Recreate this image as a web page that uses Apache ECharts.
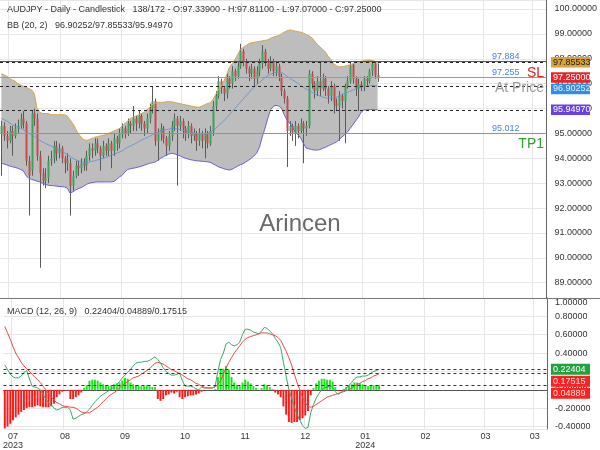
<!DOCTYPE html>
<html><head><meta charset="utf-8">
<script src="https://cdn.jsdelivr.net/npm/echarts@6/dist/echarts.min.js"></script>
<style>html,body{margin:0;padding:0;background:#fff}#c{width:600px;height:450px}</style>
</head><body><div id="c"></div>
<script>
// ---------- DATA ----------
const slotCount = 199;
const tickIndex = [3,22,44,66,88,110,132,154,176,194];
const tickLabels = ['07\n2023','08','09','10','11','12','01\n2024','02','03','03'];

const opens = [
95.0,95.3,94.9,94.7,95.1,94.9,95.2,95.3,95.6,95.4,
93.9,93.5,95.8,95.6,94.1,93.4,93.1,93.2,93.9,94.0,
94.5,94.2,94.4,94.0,93.8,93.8,92.9,93.3,93.7,93.6,
93.8,93.7,94.1,94.4,94.3,94.6,94.4,94.1,94.5,94.3,
94.6,94.3,94.8,94.6,95.0,95.2,95.0,95.4,95.3,95.6,
95.4,95.7,95.4,95.2,95.6,96.0,96.3,94.7,95.0,95.2,
94.8,94.5,94.9,95.3,95.6,95.3,95.5,95.2,95.0,95.3,
94.9,95.0,94.7,95.0,94.7,95.0,94.6,95.1,96.1,96.5,
97.1,96.8,96.6,97.2,97.0,97.5,97.3,97.7,98.3,97.9,
97.6,97.4,97.6,97.2,97.5,97.8,98.3,97.9,97.6,97.9,
97.5,97.7,97.3,96.7,96.4,95.1,95.3,95.0,95.3,95.1,
95.4,95.2,95.3,97.4,97.0,96.7,97.1,96.8,97.2,96.8,
96.5,96.9,96.2,96.1,96.5,96.3,96.9,97.1,97.75,97.2,
96.8,97.0,96.9,97.2,97.1,97.5,97.8,97.339];
const closes = [
95.3,94.9,94.7,95.1,94.9,95.2,95.3,95.6,95.4,93.9,
93.3,95.8,95.6,94.1,93.4,93.1,93.2,93.9,94.0,94.5,
94.2,94.4,94.0,93.8,93.9,92.9,93.3,93.7,93.6,93.8,
93.7,94.1,94.4,94.3,94.6,94.4,94.1,94.5,94.3,94.6,
94.3,94.8,94.6,95.0,95.2,95.0,95.4,95.3,95.6,95.4,
95.7,95.4,95.2,95.6,96.0,96.3,94.7,95.0,95.2,94.8,
94.5,94.9,95.3,95.6,95.3,95.5,95.2,95.0,95.3,94.9,
95.0,94.7,95.0,94.7,95.0,94.6,95.1,96.1,96.5,97.1,
96.8,96.6,97.2,97.0,97.5,97.3,97.7,98.3,97.9,97.6,
97.4,97.6,97.2,97.5,97.8,98.3,97.9,97.6,97.9,97.5,
97.7,97.3,96.7,96.4,95.1,95.3,95.0,95.3,95.1,95.4,
95.2,95.3,97.4,97.0,96.7,97.1,96.8,97.2,96.8,96.5,
96.9,96.2,96.1,96.5,96.3,96.9,97.1,97.7,97.2,96.8,
97.0,96.9,97.2,97.1,97.5,97.8,97.339,97.25];
const highs = [
95.5,95.45,95.1,95.3,95.3,95.4,95.55,95.8,95.9,95.5,
94.1,95.9,96.0,95.8,94.3,93.6,93.6,94.1,94.3,94.7,
94.7,94.6,94.5,94.1,94.2,94.0,93.5,93.9,93.9,94.0,
94.0,94.3,94.6,94.6,94.8,94.8,94.5,94.7,94.6,94.8,
94.7,95.0,94.9,95.2,95.4,95.3,95.6,95.5,96.1,95.7,
95.9,95.8,95.5,95.8,96.2,96.9,96.4,95.2,95.4,95.3,
94.9,95.1,95.5,95.8,95.7,95.7,95.6,95.3,95.5,95.4,
95.2,95.1,95.2,95.1,95.2,95.1,95.3,96.3,96.7,97.3,
97.2,96.9,97.4,97.3,97.7,97.6,97.9,98.6,98.4,98.0,
97.7,97.8,97.7,97.7,98.0,98.55,98.4,98.0,98.1,98.0,
97.9,97.8,97.4,96.8,96.5,95.5,95.4,95.5,95.4,95.6,
95.5,95.5,97.55,97.5,97.1,97.3,97.9,97.4,97.3,96.9,
97.1,97.0,96.4,96.7,96.6,97.0,97.3,97.85,97.8,97.3,
97.2,97.1,97.3,97.3,97.6,97.9,97.9,97.811];
const lows = [
93.3,94.7,94.4,94.6,94.1,94.8,95.0,95.2,95.2,93.7,
91.7,93.3,95.3,93.9,89.6,92.9,92.8,93.0,93.7,93.8,
93.9,94.0,93.8,93.4,93.5,91.7,92.7,93.2,93.3,93.4,
93.5,93.5,93.9,94.0,94.1,94.2,93.5,94.0,94.1,94.1,
93.6,94.1,94.3,94.4,94.8,94.8,94.9,95.0,95.1,95.1,
95.2,95.1,94.9,95.0,95.4,95.8,94.5,93.9,94.7,94.6,
94.1,94.3,94.7,95.1,92.9,95.1,94.8,94.7,94.8,94.6,
94.7,94.3,94.5,94.4,94.0,94.4,94.5,94.9,95.9,96.4,
96.6,96.3,96.4,96.8,96.8,97.1,97.2,97.6,97.7,97.4,
97.1,97.2,96.9,97.0,97.3,97.6,97.7,97.4,97.5,97.3,
97.3,97.1,96.5,96.2,93.65,94.9,94.7,94.5,94.8,95.0,
93.8,94.9,95.2,96.8,96.4,96.5,96.5,96.7,96.5,96.2,
96.3,95.8,95.9,94.7,96.0,94.6,96.8,97.0,97.0,96.5,
95.9,96.7,96.7,96.9,97.0,97.3,97.2,97.07];

const bbUpper = [
97.4,97.35,97.3,97.2,97.15,97.1,97.0,96.95,96.9,96.85,
96.8,96.75,96.6,96.0,95.85,95.8,95.8,95.8,95.75,95.75,
95.75,95.75,95.75,95.75,95.7,95.55,95.4,95.2,95.0,94.85,
94.75,94.72,94.75,94.8,94.85,94.87,94.9,94.92,94.95,95.0,
95.05,95.1,95.15,95.2,95.3,95.4,95.5,95.6,95.65,95.7,
95.75,95.8,95.85,95.95,96.05,96.15,96.2,96.25,96.25,96.25,
96.27,96.27,96.27,96.25,96.22,96.2,96.17,96.15,96.13,96.1,
96.08,96.06,96.05,96.1,96.15,96.2,96.22,96.35,96.55,96.75,
96.9,97.1,97.35,97.65,97.8,97.95,98.15,98.37,98.45,98.53,
98.6,98.64,98.66,98.68,98.7,98.72,98.74,98.76,98.82,98.87,
98.9,98.94,99.0,99.07,99.12,99.16,99.14,99.11,99.09,99.07,
99.03,98.98,98.93,98.85,98.72,98.58,98.48,98.38,98.27,98.1,
97.97,97.8,97.72,97.67,97.68,97.7,97.73,97.76,97.8,97.84,
97.87,97.9,97.92,97.94,97.95,97.93,97.9,97.855];
const bbMid = [
95.6,95.55,95.5,95.42,95.35,95.3,95.25,95.2,95.15,95.08,
95.0,94.95,94.88,94.8,94.72,94.65,94.6,94.55,94.5,94.45,
94.4,94.35,94.3,94.22,94.15,94.08,94.0,93.95,93.9,93.85,
93.83,93.82,93.85,93.88,93.9,93.93,93.96,94.0,94.03,94.07,
94.12,94.17,94.2,94.25,94.3,94.38,94.45,94.5,94.55,94.6,
94.67,94.73,94.78,94.83,94.88,94.95,95.0,95.05,95.1,95.12,
95.15,95.17,95.2,95.2,95.18,95.16,95.13,95.1,95.08,95.05,
95.02,95.0,94.98,94.97,94.97,95.0,95.05,95.12,95.2,95.3,
95.4,95.5,95.62,95.75,95.88,96.0,96.12,96.25,96.38,96.5,
96.62,96.75,96.85,96.95,97.05,97.15,97.25,97.32,97.38,97.42,
97.45,97.47,97.45,97.38,97.3,97.22,97.15,97.08,97.0,96.92,
96.85,96.78,96.72,96.66,96.6,96.55,96.5,96.46,96.43,96.42,
96.42,96.42,96.45,96.5,96.55,96.6,96.65,96.7,96.74,96.78,
96.82,96.85,96.88,96.9,96.92,96.93,96.92,96.90252];
const bbLower = [
93.8,93.77,93.73,93.69,93.66,93.63,93.6,93.55,93.5,93.3,
93.2,93.15,93.12,93.08,93.05,93.0,92.95,92.92,92.9,92.9,
92.88,92.87,92.86,92.85,92.8,92.6,92.65,92.72,92.78,92.82,
92.88,92.95,93.0,93.02,93.04,93.05,93.05,93.05,93.05,93.05,
93.05,93.07,93.15,93.25,93.32,93.45,93.55,93.58,93.6,93.62,
93.65,93.68,93.72,93.76,93.8,93.82,93.85,93.92,94.0,94.06,
94.12,94.17,94.2,94.18,94.14,94.1,94.05,94.0,93.97,93.94,
93.92,93.9,93.89,93.88,93.87,93.86,93.84,93.78,93.72,93.66,
93.62,93.58,93.55,93.53,93.56,93.62,93.68,93.74,93.78,93.85,
93.92,94.0,94.1,94.21,94.45,94.86,95.2,95.6,95.95,96.08,
96.13,96.1,96.02,95.75,95.54,95.4,95.26,95.05,94.95,94.82,
94.6,94.41,94.38,94.35,94.33,94.33,94.35,94.4,94.44,94.5,
94.55,94.6,94.65,94.75,94.85,94.95,95.05,95.2,95.35,95.5,
95.65,95.85,95.94,95.95,95.96,95.96,95.95,95.9497];

const macdLine = [
0.27,0.22,0.17,0.14,0.13,0.13,0.15,0.19,0.21,0.12,
0.04,0.03,0.02,0.0,-0.05,-0.10,-0.14,-0.17,-0.20,-0.22,
-0.21,-0.19,-0.19,-0.19,-0.22,-0.32,-0.31,-0.29,-0.27,-0.26,
-0.24,-0.21,-0.17,-0.13,-0.10,-0.07,-0.05,-0.03,-0.01,0.01,
0.03,0.06,0.09,0.13,0.16,0.19,0.22,0.26,0.29,0.30,
0.30,0.31,0.31,0.32,0.34,0.36,0.33,0.29,0.24,0.20,
0.18,0.16,0.16,0.17,0.18,0.10,0.04,0.04,0.04,0.03,
0.01,0.0,0.03,0.02,0.02,0.02,0.02,0.04,0.20,0.33,
0.40,0.50,0.52,0.49,0.48,0.49,0.52,0.60,0.66,0.66,
0.65,0.63,0.62,0.61,0.64,0.68,0.67,0.64,0.61,0.56,
0.52,0.46,0.30,0.15,0.0,-0.09,-0.18,-0.27,-0.33,-0.39,
-0.42,-0.41,-0.25,-0.16,-0.09,-0.04,0.0,0.02,0.03,0.04,
0.03,-0.02,-0.05,-0.03,-0.01,0.02,0.05,0.08,0.12,0.14,
0.14,0.15,0.15,0.16,0.18,0.20,0.21,0.22404];
const signalLine = [
0.69,0.62,0.55,0.47,0.40,0.35,0.30,0.26,0.23,0.20,
0.17,0.14,0.11,0.08,0.04,0.0,-0.04,-0.08,-0.11,-0.14,
-0.15,-0.17,-0.18,-0.18,-0.19,-0.19,-0.20,-0.22,-0.24,-0.25,
-0.25,-0.25,-0.23,-0.21,-0.19,-0.16,-0.13,-0.10,-0.07,-0.05,
-0.03,-0.01,0.02,0.05,0.07,0.09,0.11,0.13,0.14,0.15,
0.17,0.19,0.21,0.23,0.26,0.29,0.30,0.29,0.28,0.26,
0.24,0.22,0.21,0.19,0.18,0.16,0.14,0.12,0.11,0.09,
0.07,0.06,0.04,0.03,0.02,0.02,0.02,0.03,0.06,0.10,
0.17,0.24,0.30,0.35,0.40,0.44,0.48,0.52,0.55,0.57,
0.58,0.59,0.60,0.61,0.62,0.62,0.62,0.61,0.60,0.59,
0.57,0.54,0.48,0.42,0.35,0.27,0.17,0.08,0.0,-0.08,
-0.14,-0.18,-0.19,-0.18,-0.16,-0.14,-0.12,-0.10,-0.08,-0.07,
-0.06,-0.05,-0.04,-0.03,-0.02,-0.01,0.0,0.02,0.04,0.06,
0.07,0.09,0.10,0.12,0.13,0.15,0.16,0.17515];
const histValues = [
-0.42,-0.40,-0.37,-0.33,-0.30,-0.27,-0.24,-0.22,-0.20,-0.19,
-0.19,-0.18,-0.17,-0.18,-0.19,-0.19,-0.19,-0.18,-0.15,-0.08,
-0.05,-0.02,-0.01,-0.01,-0.10,-0.10,-0.08,-0.06,-0.03,0.02,
0.05,0.10,0.11,0.11,0.10,0.08,0.06,0.05,0.04,0.05,
0.06,0.07,0.08,0.10,0.13,0.12,0.08,0.06,0.05,0.05,
0.04,0.04,0.05,0.04,0.03,0.03,-0.10,-0.12,-0.10,-0.06,
-0.05,-0.03,-0.04,-0.02,-0.08,-0.10,-0.08,-0.07,-0.06,-0.06,
-0.05,-0.04,-0.02,-0.01,0.0,0.0,0.0,0.01,0.14,0.23,
0.23,0.26,0.22,0.14,0.08,0.05,0.04,0.08,0.11,0.09,
0.07,0.04,0.02,0.0,0.02,0.06,0.05,0.03,0.01,-0.03,
-0.05,-0.08,-0.18,-0.27,-0.35,-0.36,-0.35,-0.35,-0.33,-0.31,
-0.28,-0.23,-0.06,0.02,0.07,0.10,0.12,0.12,0.11,0.11,
0.09,0.03,-0.01,0.0,0.01,0.03,0.05,0.06,0.08,0.08,
0.07,0.06,0.05,0.04,0.05,0.05,0.05,0.04889];

const headerText = 'AUDJPY - Daily - Candlestick   138/172 - O:97.33900 - H:97.81100 - L:97.07000 - C:97.25000';
const bbText = 'BB (20, 2)   96.90252/97.85533/95.94970';
const macdText = 'MACD (12, 26, 9)   0.22404/0.04889/0.17515';
const bbLast = {mid: 96.90252, upper: 97.85533, lower: 95.94970};
const lastClose = 97.25;
const levelSL = 97.884, levelAtPrice = 97.255, levelTP1 = 95.012;
const macdLast = {macd: 0.22404, hist: 0.04889, signal: 0.17515};

// ---------- BUILD ----------
const FONT = 'Liberation Sans, Arial, sans-serif';
const cats = Array.from({length: slotCount}, (_, i) => String(i));
const tickMap = new Map(tickIndex.map((t, k) => [t, tickLabels[k]]));
const isTick = (idx) => tickMap.has(idx);
const candleData = opens.map((o, i) => [i, o, closes[i], lows[i], highs[i]]);
const bandDiff = bbUpper.map((u, i) => +(u - bbLower[i]).toFixed(4));

function renderCandle(params, api) {
  const i = api.value(0), o = api.value(1), c = api.value(2), l = api.value(3), h = api.value(4);
  const pO = api.coord([i, o]), pC = api.coord([i, c]), pL = api.coord([i, l]), pH = api.coord([i, h]);
  const w = Math.max(api.size([1, 0])[0] * 0.72, 1);
  const x = Math.round(pO[0]) + 0.5;
  const top = Math.min(pO[1], pC[1]), bot = Math.max(pO[1], pC[1]);
  return {type: 'group', children: [
    {type: 'line', shape: {x1: x, y1: pH[1], x2: x, y2: pL[1]}, style: {stroke: '#5a5a5a', lineWidth: 1}},
    {type: 'rect', shape: {x: x - w / 2, y: top, width: w, height: Math.max(bot - top, 1)},
     style: {fill: c >= o ? '#3da35a' : '#c74a4a'}}
  ]};
}

const chart = echarts.init(document.getElementById('c'), null, {renderer: 'canvas'});
const gridLine = {show: true, lineStyle: {color: '#e6e6e6', width: 1}};
const option = {
  animation: false,
  backgroundColor: '#ffffff',
  grid: [
    {left: 0, right: 53, top: 0, height: 298},
    {left: 0, right: 53, top: 298, height: 134}
  ],
  xAxis: [
    {type: 'category', gridIndex: 0, data: cats, boundaryGap: true,
     axisLine: {show: false}, axisTick: {show: false}, axisLabel: {show: false},
     splitLine: Object.assign({interval: isTick}, gridLine)},
    {type: 'category', gridIndex: 1, data: cats, boundaryGap: true,
     axisLine: {show: true, lineStyle: {color: '#555'}}, axisTick: {show: false},
     axisLabel: {interval: isTick, formatter: (v, idx) => tickMap.get(+v) || '',
                 fontSize: 9, color: '#333', fontFamily: FONT, lineHeight: 9, margin: 3},
     splitLine: Object.assign({interval: isTick}, gridLine)}
  ],
  yAxis: [
    {type: 'value', gridIndex: 0, position: 'right', min: 88.384, max: 100.362, splitNumber: 12,
     axisLine: {show: true, lineStyle: {color: '#666'}}, axisTick: {show: false},
     axisLabel: {showMinLabel: false, showMaxLabel: false, fontSize: 9, color: '#333', fontFamily: FONT,
                 margin: 8, formatter: v => v.toFixed(5)},
     splitLine: gridLine},
    {type: 'value', gridIndex: 1, position: 'right', min: -0.4266, max: 1.0, splitNumber: 7,
     axisLine: {show: true, lineStyle: {color: '#666'}}, axisTick: {show: false},
     axisLabel: {showMinLabel: false, verticalAlignMaxLabel: 'top', fontSize: 9, color: '#333', fontFamily: FONT,
                 margin: 8, formatter: v => v.toFixed(5)},
     splitLine: gridLine}
  ],
  series: [
    {name: 'bbBase', type: 'line', stack: 'bb', data: bbLower, symbol: 'none', silent: true,
     lineStyle: {opacity: 0}, z: 1},
    {name: 'bbFill', type: 'line', stack: 'bb', data: bandDiff, symbol: 'none', silent: true,
     lineStyle: {opacity: 0}, areaStyle: {color: '#bdbdbd', opacity: 1}, z: 1},
    {name: 'candles', type: 'custom', renderItem: renderCandle, data: candleData,
     encode: {x: 0, y: [1, 2, 3, 4]}, clip: true, z: 3},
    {name: 'bbUpper', type: 'line', data: bbUpper, symbol: 'none', lineStyle: {color: '#d7a64c', width: 1}, z: 4},
    {name: 'bbMid', type: 'line', data: bbMid, symbol: 'none', lineStyle: {color: '#5b8fd6', width: 0.8}, z: 4,
     markLine: {symbol: 'none', silent: true, label: {show: false}, animation: false,
       data: [
         {yAxis: levelSL, lineStyle: {color: '#cc1f1f', type: 'solid', width: 1}},
         {yAxis: levelAtPrice, lineStyle: {color: '#999999', type: 'solid', width: 1}},
         {yAxis: levelTP1, lineStyle: {color: '#5cb85c', type: 'solid', width: 1}},
         {yAxis: bbLast.upper, lineStyle: {color: '#222', type: [3, 3], width: 1}},
         {yAxis: bbLast.mid, lineStyle: {color: '#222', type: [3, 3], width: 1}},
         {yAxis: bbLast.lower, lineStyle: {color: '#222', type: [3, 3], width: 1}}
       ]}},
    {name: 'bbLower', type: 'line', data: bbLower, symbol: 'none', lineStyle: {color: '#6a5fd8', width: 1}, z: 4},
    {name: 'hist', type: 'bar', xAxisIndex: 1, yAxisIndex: 1, data: histValues, barWidth: '72%',
     itemStyle: {color: p => p.value >= 0 ? '#19e619' : '#ff1a1a'}, z: 2},
    {name: 'macd', type: 'line', xAxisIndex: 1, yAxisIndex: 1, data: macdLine, symbol: 'none',
     lineStyle: {color: '#3aa86b', width: 1}, z: 4},
    {name: 'signal', type: 'line', xAxisIndex: 1, yAxisIndex: 1, data: signalLine, symbol: 'none',
     lineStyle: {color: '#e84a4a', width: 1}, z: 4,
     markLine: {symbol: 'none', silent: true, label: {show: false}, animation: false,
       lineStyle: {color: '#333', type: [3, 3], width: 1},
       data: [{yAxis: macdLast.macd}, {yAxis: macdLast.signal}, {yAxis: macdLast.hist}]}}
  ]
};
chart.setOption(option);

// ---------- ANNOTATIONS ----------
function txt(x, y, text, size, color, align, extra) {
  return Object.assign({type: 'text', x: x, y: y, z: 50, silent: true,
    style: {text: text, fill: color, font: size + 'px ' + FONT, textAlign: align || 'left', textVerticalAlign: 'middle',
            align: align || 'left', verticalAlign: 'middle'}}, extra || {});
}
const py = v => chart.convertToPixel({yAxisIndex: 0}, v);
const my = v => chart.convertToPixel({yAxisIndex: 1}, v);
const g = [];
g.push(txt(7, 10, headerText, 9, '#333'));
g.push(txt(7, 26, bbText, 9, '#333'));
g.push(txt(7, 312, macdText, 9, '#333'));
g.push(txt(300, 224, 'Arincen', 24, '#6a6a6a', 'center', {z: 2}));
g.push({type: 'line', z: 40, silent: true, shape: {x1: 0, y1: 298.5, x2: 600, y2: 298.5}, style: {stroke: '#777', lineWidth: 1}});
const levels = [
  {v: levelSL, valText: levelSL.toFixed(3), name: 'SL', color: '#e02020'},
  {v: levelAtPrice, valText: levelAtPrice.toFixed(3), name: 'At Price', color: '#999999'},
  {v: levelTP1, valText: levelTP1.toFixed(3), name: 'TP1', color: '#2e9e2e'}
];
levels.forEach(l => {
  const y = py(l.v);
  g.push(txt(492, y - 5, l.valText, 9, '#4a7fe0'));
  g.push(txt(544, y + 11, l.name, 14, l.color, 'right'));
});
function tags(list, conv, h) {
  let prev = -1e9;
  list.forEach(t => {
    let y = conv(t.v);
    if (y < prev + h) y = prev + h;
    prev = y;
    g.push({type: 'rect', z: 45, silent: true, shape: {x: 551, y: y - h / 2 + 0.5, width: 39, height: h - 1},
            style: {fill: t.bg}});
    g.push(txt(553, y, t.text, 9, t.fg));
  });
}
tags([
  {v: bbLast.upper, text: bbLast.upper.toFixed(5), bg: '#d9a23a', fg: '#222'},
  {v: lastClose, text: lastClose.toFixed(5), bg: '#e3262b', fg: '#fff'},
  {v: bbLast.mid, text: bbLast.mid.toFixed(5), bg: '#2f8ee6', fg: '#e8f0ff'},
  {v: bbLast.lower, text: bbLast.lower.toFixed(5), bg: '#6b3fe6', fg: '#fff'}
], py, 11.5);
tags([
  {v: macdLast.macd, text: macdLast.macd.toFixed(5), bg: '#1fa33f', fg: '#fff'},
  {v: macdLast.signal, text: macdLast.signal.toFixed(5), bg: '#ff2020', fg: '#ffe0e0'},
  {v: macdLast.hist, text: macdLast.hist.toFixed(5), bg: '#ff2020', fg: '#ffe0e0'}
], my, 12);
chart.setOption({graphic: g});
</script>
</body></html>
